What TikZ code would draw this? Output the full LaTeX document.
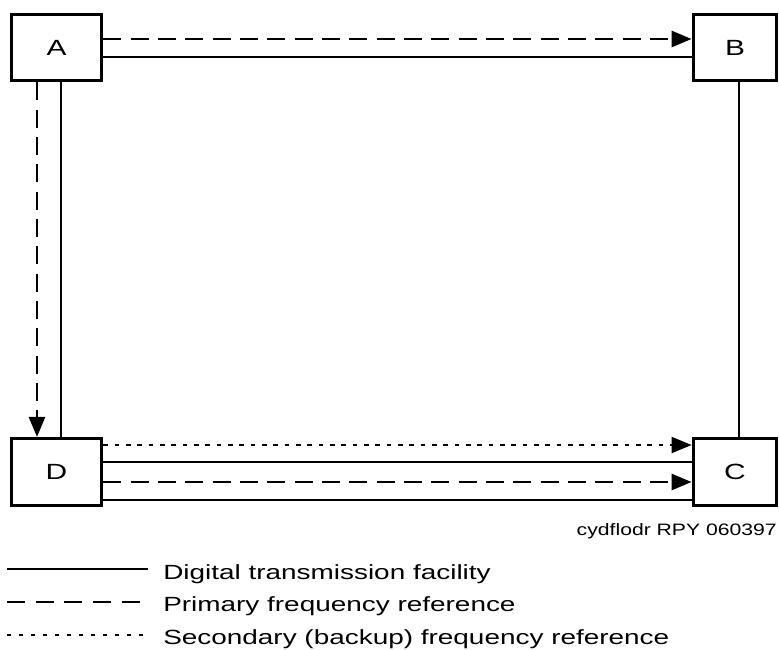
\documentclass[tikz,border=0pt]{standalone}
\usepackage{fontspec}
\setmainfont{Liberation Sans}
\newfontfamily\widefont[FakeStretch=1.36]{Liberation Sans}
\newfontfamily\tagfont[FakeStretch=1.28]{Liberation Sans}
\usetikzlibrary{arrows.meta}

\begin{document}
\begin{tikzpicture}[x=0.75pt,y=0.75pt,yscale=-1,xscale=1,
    site/.style={draw,line width=2.6pt,fill=white,inner sep=0pt,font=\widefont\fontsize{16.5}{18}\selectfont},
    facility/.style={line width=1.4pt},
    primary/.style={line width=2.1pt,dash pattern=on 13.5pt off 7pt},
    secondary/.style={line width=1.5pt,dash pattern=on 3.5pt off 5pt},
    tip/.style={-{Triangle[length=15pt,width=12pt]}},
    legend/.style={anchor=base west,inner sep=0pt,font=\widefont\fontsize{15.4}{18}\selectfont}]
    \useasboundingbox (0,0) rectangle (779,650);

    %Shape: Rectangle [sites]
    \node[site,minimum width=67.5pt,minimum height=49.5pt] (A) at (56.5,47.5) {A};
    \node[site,minimum width=62.5pt,minimum height=49.5pt] (B) at (735,47.5) {B};
    \node[site,minimum width=62.5pt,minimum height=50pt] (C) at (735,472) {C};
    \node[site,minimum width=67.5pt,minimum height=50pt] (D) at (56.5,472) {D};

    %Straight Lines [A to B]
    \draw[primary,tip] (A.east |- 0,39) -- (B.west |- 0,39);
    \draw[facility] (A.east |- 0,57) -- (B.west |- 0,57);
    %Straight Lines [A to D]
    \draw[primary,tip] (A.south -| 37,0) -- (D.north -| 37,0);
    \draw[facility] (A.south -| 61,0) -- (D.north -| 61,0);
    %Straight Lines [B to C]
    \draw[facility] (B.south -| 739,0) -- (C.north -| 739,0);
    %Straight Lines [D to C]
    \draw[secondary,tip] (D.east |- 0,445) -- (C.west |- 0,445);
    \draw[facility] (D.east |- 0,462) -- (C.west |- 0,462);
    \draw[primary,tip] (D.east |- 0,482) -- (C.west |- 0,482);
    \draw[facility] (D.east |- 0,500) -- (C.west |- 0,500);

    % Text Node
    \node[anchor=base east,inner sep=0pt,font=\tagfont\fontsize{12.4}{15}\selectfont] (tag) at (777,535) {cydflodr RPY 060397};

    %Legend
    \coordinate (l1s) at (7,569);  \coordinate (l1e) at (148,569);
    \coordinate (l2s) at (7,602);  \coordinate (l2e) at (148,602);
    \coordinate (l3s) at (7,635);  \coordinate (l3e) at (148,635);
    \draw[facility] (l1s) -- (l1e);
    \draw[primary,dash pattern=on 13.5pt off 8pt] (l2s) -- (l2e);
    \draw[secondary,line width=1.2pt,dash pattern=on 3pt off 6pt] (l3s) -- (l3e);
    % Text Node
    \node[legend] (t1) at (163,579) {Digital transmission facility};
    % Text Node
    \node[legend] (t2) at (163,611) {Primary frequency reference};
    % Text Node
    \node[legend] (t3) at (163,644) {Secondary (backup) frequency reference};

\end{tikzpicture}
\end{document}
